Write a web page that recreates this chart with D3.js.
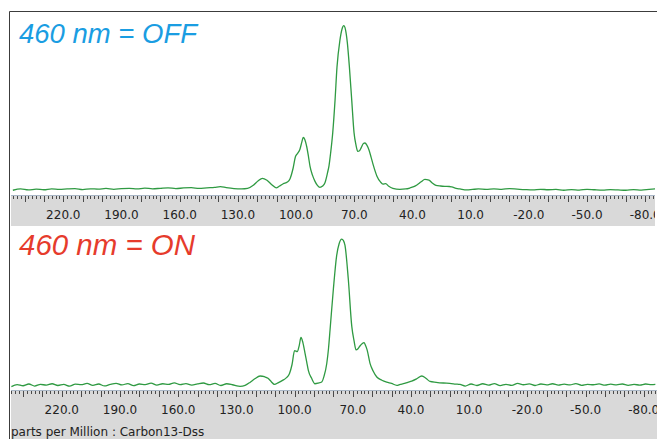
<!DOCTYPE html>
<html>
<head>
<meta charset="utf-8">
<script src="https://cdn.jsdelivr.net/npm/d3@7"></script>
<style>
  body { margin: 0; background: #fff; }
  svg { display: block; }
</style>
</head>
<body>
<script>
// define width and height
var width = 657;
var height = 439;

// spectrum: [ppm, relative intensity (main peak = 100)]
var offPoints = [[246,-0.6],[242,0.2],[238,-0.4],[234,0.1],[230,-0.3],[226,0.3],[222,-0.1],[218,0.2],[214,0.4],[210,-0.2],[206,0.3],[202,0.1],[198,0.5],[194,0.0],[190,0.4],[186,0.6],[182,0.2],[178,0.7],[174,0.3],[170,0.6],[166,0.9],[162,0.4],[158,0.8],[154,1.0],[150,0.5],[146,0.9],[142,1.2],[139,1.6],[136,1.0],[132,0.4],[128,0.2],[125,0.5],[122,2.5],[119.5,5.2],[117.4,6.7],[115,5.5],[112.5,2.8],[110.3,0.9],[108.5,2.0],[106.6,3.4],[104.5,4.4],[103.1,6.5],[101.5,13],[100.3,20],[99.2,22],[98,24.5],[97,29],[96.3,31.7],[95.5,30.5],[94.5,26],[93.6,20],[92.8,14],[91.5,8.5],[90.3,5],[89,2.4],[87.7,1.2],[86.3,2],[85.1,4],[83.8,10],[83,14.5],[82.2,22],[81.1,34.5],[79.9,54.5],[78.9,74.7],[77.4,91],[76.3,98],[75.4,100],[74.5,97.5],[73.6,90],[72.5,74.7],[71.3,54.5],[70.1,34.5],[69.1,27],[68.2,23.2],[67.3,23.6],[66.4,25.5],[65.3,28],[64.5,28.3],[63.5,27],[62.4,24],[61.3,19.5],[60.3,15.2],[58.3,8],[56.5,4.5],[55.2,3.2],[53.8,3.4],[52.2,1.8],[50.1,0.6],[46.5,0],[43.5,0.2],[41.3,0.8],[39.3,1.6],[37.7,2.6],[35.5,4.6],[33.6,6],[31.5,5.6],[29.8,3.8],[27.9,2.4],[25.5,2.0],[23.3,1.8],[21,1.7],[19.7,1.4],[17.5,0.6],[15.5,0.2],[12,-0.4],[9,-0.1],[6,0.2],[2,0.0],[-2,0.3],[-6,0.0],[-10,0.4],[-14,0.1],[-18,-0.2],[-22,-0.4],[-26,0.0],[-30,-0.3],[-34,-0.1],[-38,-0.6],[-42,-0.2],[-46,-0.5],[-50,0.0],[-54,-0.3],[-58,-0.5],[-62,-0.2],[-66,-0.4],[-70,-0.6],[-74,-0.2],[-78,-0.5],[-82,-0.1],[-86,0.3]];

var onPoints = [[246,-1.2],[243,0.2],[240,-0.6],[237,0.6],[234,-0.8],[231,0.4],[228,-0.2],[225,0.8],[222,-0.4],[219,0.3],[216,-0.9],[213,0.5],[210,0.2],[207,1.0],[204,-0.3],[201,0.6],[198,-0.7],[195,0.4],[192,1.1],[189,0.0],[186,0.9],[183,-0.5],[180,0.6],[177,0.2],[174,1.2],[171,-0.2],[168,0.8],[165,0.3],[162,1.4],[159,0.2],[156,0.9],[153,-0.1],[150,0.7],[147,1.3],[144,0.2],[141,1.0],[138,-0.4],[135,0.8],[132,0.1],[129,-0.9],[128.1,-1],[125.5,-0.3],[123,1.7],[120.5,4.2],[117.8,6.1],[115.5,5.6],[113.7,4.5],[112,2.2],[110.4,0.3],[108.3,1.6],[106.2,3.1],[104.3,4.8],[102.6,7.8],[101.3,14],[100,23.5],[98.6,22.8],[97.6,27],[96.7,32.5],[95.7,29],[94.6,21.7],[93.7,15.5],[92.9,10],[91.2,4.5],[89.5,0.8],[87.8,1.2],[86,2],[84.8,6],[83.4,14.7],[82.5,25],[81.7,37.8],[80,65.6],[78.3,88.7],[77,97],[75.7,100],[74.8,99],[74,95.7],[72.3,72.6],[70.5,40.1],[69.3,30],[68.3,24],[67.3,24.8],[66.3,26.7],[65.2,28.3],[64.2,29],[63.4,27],[62.6,24],[61.1,14.8],[59.5,9.5],[57.6,5.4],[55,3.2],[52.5,1.9],[50,1.0],[47.3,-0.3],[45.5,0.4],[43.9,0.8],[41.6,1.8],[39.6,2.6],[37,4.2],[34.4,6.1],[32.3,4.6],[30.2,2.4],[27,1.8],[23.3,1.3],[20,1.0],[17,0.6],[14.7,0.3],[12,-0.8],[9,0.6],[6,-0.4],[3,0.8],[0,-0.2],[-3,0.9],[-6,-0.5],[-9,0.4],[-12,-0.3],[-15,1.0],[-18,0.1],[-21,0.7],[-24,-0.4],[-27,0.6],[-30,0.0],[-33,0.8],[-36,-0.2],[-39,0.5],[-42,0.0],[-45,0.9],[-48,-0.3],[-51,0.4],[-54,0.1],[-57,0.7],[-60,-0.2],[-63,0.5],[-66,0.0],[-69,0.6],[-72,-0.3],[-75,0.3],[-78,-0.1],[-81,0.6],[-84,0.2],[-86,0.4]];

// labelled ticks (ppm) and panel titles
var labelValues = [220, 190, 160, 130, 100, 70, 40, 10, -20, -50, -80];
var titles = ["460 nm = OFF", "460 nm = ON"];
var titleColors = ["#1a9de2", "#e63b2c"];
var axisTitle = "parts per Million : Carbon13-Dss";

// layout for the two stacked panels
var panels = [
  { points: offPoints, top: 11, bandTop: 195, bandBottom: 226, shift: 0,    clipRight: 655, titleY: 43,  titleSize: 28.5, titleLen: 178 },
  { points: onPoints,  top: 226, bandTop: 390, bandBottom: 439, shift: -1.5, clipRight: 657, titleY: 255, titleSize: 29.5, titleLen: 176 }
];

var svg = d3.select("body")
            .append("svg")
            .attr("width", width)
            .attr("height", height);

panels.forEach(function(p, i) {
  // ppm axis runs right to left like the spectrometer software
  var x = d3.scaleLinear()
            .domain([246.45, -85.05])
            .range([12 + p.shift, 655 + p.shift]);
  var y = d3.scaleLinear()
            .domain([-3.5, 109])
            .range([p.bandTop, p.top]);

  var clipId = "clip" + i;
  svg.append("clipPath")
     .attr("id", clipId)
     .append("rect")
     .attr("x", 11)
     .attr("y", p.top)
     .attr("width", p.clipRight - 11)
     .attr("height", p.bandBottom - p.top);

  var g = svg.append("g").attr("clip-path", "url(#" + clipId + ")");

  // grey axis band
  g.append("rect")
   .attr("x", 11)
   .attr("y", p.bandTop)
   .attr("width", p.clipRight - 11)
   .attr("height", p.bandBottom - p.bandTop)
   .attr("fill", "#d9d9d9");

  g.append("line")
   .attr("x1", 11).attr("x2", p.clipRight)
   .attr("y1", p.bandTop + 0.5).attr("y2", p.bandTop + 0.5)
   .attr("stroke", "#a8b6c6")
   .attr("stroke-width", 1);

  // minor ticks every 2 ppm, long ones every 10
  var tickVals = d3.range(-86, 248, 2);
  var axis = d3.axisBottom(x)
               .tickValues(tickVals)
               .tickSizeOuter(0)
               .tickFormat("");
  var ax = g.append("g")
            .attr("transform", "translate(0," + (p.bandTop + 1) + ")")
            .call(axis);
  ax.select(".domain").remove();
  ax.selectAll(".tick line")
    .attr("y2", function(d) { return d % 10 === 0 ? 6 : 3; })
    .attr("stroke", "#4a4a4a")
    .attr("shape-rendering", "crispEdges");

  g.selectAll("text.ppm")
   .data(labelValues)
   .enter().append("text")
   .attr("class", "ppm")
   .attr("x", function(d) { return x(d); })
   .attr("y", p.bandTop + 23.5)
   .attr("text-anchor", "middle")
   .attr("font-family", "DejaVu Sans, sans-serif")
   .attr("font-size", 12)
   .attr("fill", "#222")
   .text(function(d) { return d.toFixed(1); });

  // spectrum trace
  var line = d3.line()
               .x(function(d) { return x(d[0]); })
               .y(function(d) { return y(d[1]); })
               .curve(d3.curveMonotoneX);

  g.append("path")
   .datum(p.points)
   .attr("d", line)
   .attr("fill", "none")
   .attr("stroke", "#2f9a42")
   .attr("stroke-width", 1.3)
   .attr("stroke-linejoin", "round");

  // panel title
  svg.append("text")
     .attr("x", 19)
     .attr("y", p.titleY)
     .attr("font-family", "Liberation Sans, Arial, sans-serif")
     .attr("font-style", "italic")
     .attr("font-size", p.titleSize)
     .attr("textLength", p.titleLen)
     .attr("lengthAdjust", "spacingAndGlyphs")
     .attr("fill", titleColors[i])
     .text(titles[i]);
});

svg.append("text")
   .attr("x", 11)
   .attr("y", 435.5)
   .attr("font-family", "DejaVu Sans, sans-serif")
   .attr("font-size", 12)
   .attr("fill", "#222")
   .text(axisTitle);

// outer frame, top and left only
svg.append("path")
   .attr("d", "M9.5,439V11.5H657")
   .attr("fill", "none")
   .attr("stroke", "#3c3c3c")
   .attr("stroke-width", 1);
</script>
</body>
</html>
